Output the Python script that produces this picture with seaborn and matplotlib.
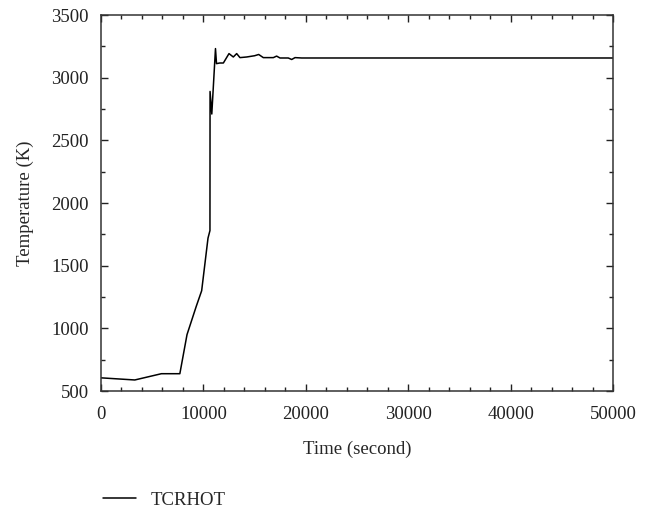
import matplotlib
matplotlib.use("Agg")
import matplotlib.pyplot as plt
import seaborn as sns
import pandas as pd
from matplotlib.ticker import MultipleLocator

time_s = [0, 3300, 5900, 7700, 8400, 9300, 9830, 10450, 10640, 10650, 10820,
          11180, 11280, 11600, 11950, 12500, 12920, 13250, 13570, 14230, 15000,
          15400, 15850, 16830, 17150, 17480, 18290, 18620, 18950, 19600, 50000]
temp_k = [605, 588, 638, 638, 950, 1175, 1300, 1720, 1780, 2890, 2710,
          3232, 3112, 3117, 3117, 3192, 3165, 3192, 3160, 3165, 3175,
          3185, 3160, 3160, 3172, 3157, 3157, 3145, 3160, 3157, 3157]
series_name = "TCRHOT"

df = pd.DataFrame({"Time": time_s, "Temp": temp_k})

sns.set_theme(style="ticks")
plt.rcParams["font.family"] = ["Liberation Serif", "DejaVu Serif"]

fig = plt.figure(figsize=(6.48, 5.13), dpi=100)
ax = fig.add_axes([101/648, 1-391/513, (613-101)/648, (391-15)/513])

sns.lineplot(data=df, x="Time", y="Temp", ax=ax, sort=False, estimator=None,
             color="black", linewidth=1.1, label=series_name, legend=False)

ax.set_xlim(0, 50000)
ax.set_ylim(500, 3500)
ax.xaxis.set_major_locator(MultipleLocator(10000))
ax.xaxis.set_minor_locator(MultipleLocator(2000))
ax.yaxis.set_major_locator(MultipleLocator(500))
ax.yaxis.set_minor_locator(MultipleLocator(250))
ax.tick_params(which="both", direction="in", top=True, right=True,
               labelsize=13.5, colors="#222222", width=1.0)
ax.tick_params(which="major", length=5)
ax.tick_params(which="minor", length=3)
ax.tick_params(axis="x", which="major", pad=10.5)
ax.tick_params(axis="y", which="major", pad=9)
for s in ax.spines.values():
    s.set_linewidth(1.1)
    s.set_color("#333333")
    s.set_visible(True)

ax.set_xlabel("Time (second)", fontsize=13.5, labelpad=13)
ax.set_ylabel("Temperature (K)", fontsize=13.5, labelpad=12)

handles, labels = ax.get_legend_handles_labels()
fig.legend(handles, labels, loc="center left", bbox_to_anchor=(86/648, 1-500/513),
           frameon=False, fontsize=13.5, handlelength=1.75, handletextpad=0.8)

fig.savefig("out.png", dpi=100)
